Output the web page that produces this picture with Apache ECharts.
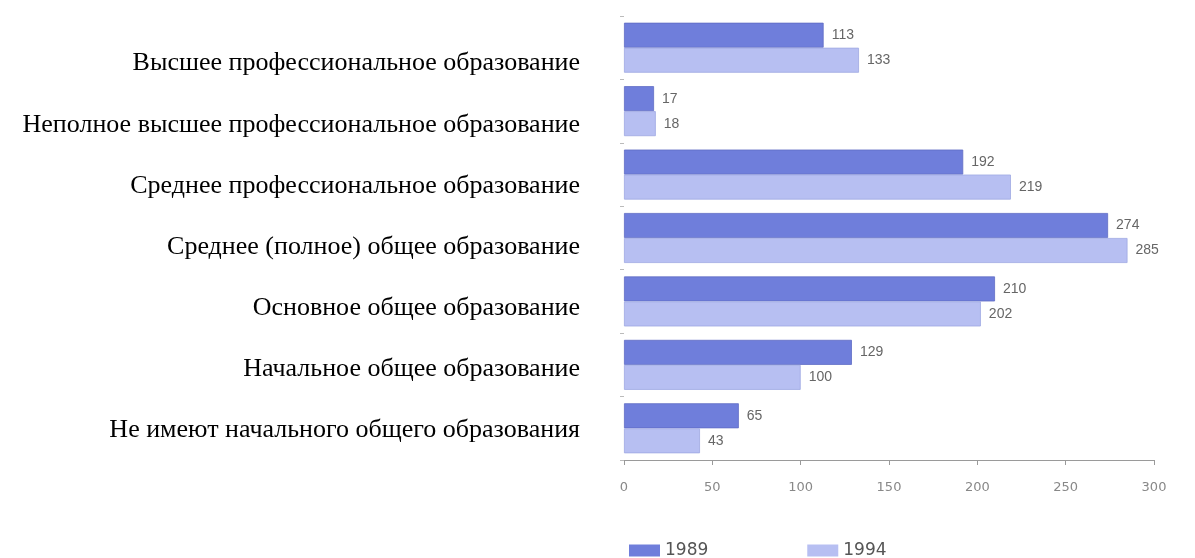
<!DOCTYPE html>
<html>
<head>
<meta charset="utf-8">
<script src="https://cdn.jsdelivr.net/npm/echarts@6/dist/echarts.min.js"></script>
<style>
  html, body { margin: 0; padding: 0; background: #fff; }
  #chart { width: 1195px; height: 558px; }
</style>
</head>
<body>
<div id="chart"></div>
<script>
const categories = [
  "Высшее профессиональное образование",
  "Неполное высшее профессиональное образование",
  "Среднее профессиональное образование",
  "Среднее (полное) общее образование",
  "Основное общее образование",
  "Начальное общее образование",
  "Не имеют начального общего образования",
];
const values1989 = [113, 17, 192, 274, 210, 129, 65];
const values1994 = [133, 18, 219, 285, 202, 100, 43];
const xTicks = { min: 0, max: 300, interval: 50 };

const chart = echarts.init(document.getElementById("chart"));

const barLabel = {
  show: true,
  position: "right",
  distance: 8,
  color: "#666",
  fontFamily: "Liberation Sans",
  fontSize: 14,
};

chart.setOption({
  backgroundColor: "#ffffff",
  animation: false,
  // grid 0 holds the bars, grid 1 only carries the category names
  // (they sit a bit lower than the bar groups in the original)
  grid: [
    { left: 624, right: 41, top: 16, bottom: 98 },
    { left: 624, right: 41, top: 33, bottom: 97 },
  ],
  legend: {
    top: 537,
    left: 624,
    itemGap: 99,
    itemWidth: 31,
    itemHeight: 12,
    icon: "rect",
    itemStyle: { borderWidth: 0 },
    textStyle: { color: "#555", fontFamily: "DejaVu Sans", fontSize: 17 },
    data: ["1989", "1994"],
  },
  xAxis: [
    {
      type: "value",
      gridIndex: 0,
      min: xTicks.min,
      max: xTicks.max,
      interval: xTicks.interval,
      axisLine: { show: true, lineStyle: { color: "#9a9a9a", width: 1 } },
      axisTick: { show: true, length: 5, lineStyle: { color: "#9a9a9a" } },
      axisLabel: { color: "#888", fontFamily: "DejaVu Sans", fontSize: 13, margin: 21 },
      splitLine: { show: false },
    },
    {
      type: "value",
      gridIndex: 1,
      show: false,
    },
  ],
  yAxis: [
    {
      type: "category",
      gridIndex: 0,
      inverse: true,
      data: categories,
      axisLine: { show: false },
      axisTick: { show: true, length: 4, lineStyle: { color: "#bbb" } },
      axisLabel: { show: false },
    },
    {
      type: "category",
      gridIndex: 1,
      inverse: true,
      data: categories,
      axisLine: { show: false },
      axisTick: { show: false },
      axisLabel: {
        color: "#000",
        fontFamily: "Liberation Serif",
        fontSize: 26,
        margin: 44,
      },
    },
  ],
  series: [
    {
      name: "1989",
      type: "bar",
      data: values1989,
      barWidth: 25,
      barGap: "0%",
      itemStyle: { color: "#6f7edb", borderColor: "#5f6cc4", borderWidth: 0.8 },
      label: barLabel,
    },
    {
      name: "1994",
      type: "bar",
      data: values1994,
      barWidth: 25,
      barGap: "0%",
      itemStyle: { color: "#b7bff2", borderColor: "#9ea8e2", borderWidth: 0.8 },
      label: barLabel,
    },
  ],
});
</script>
</body>
</html>
